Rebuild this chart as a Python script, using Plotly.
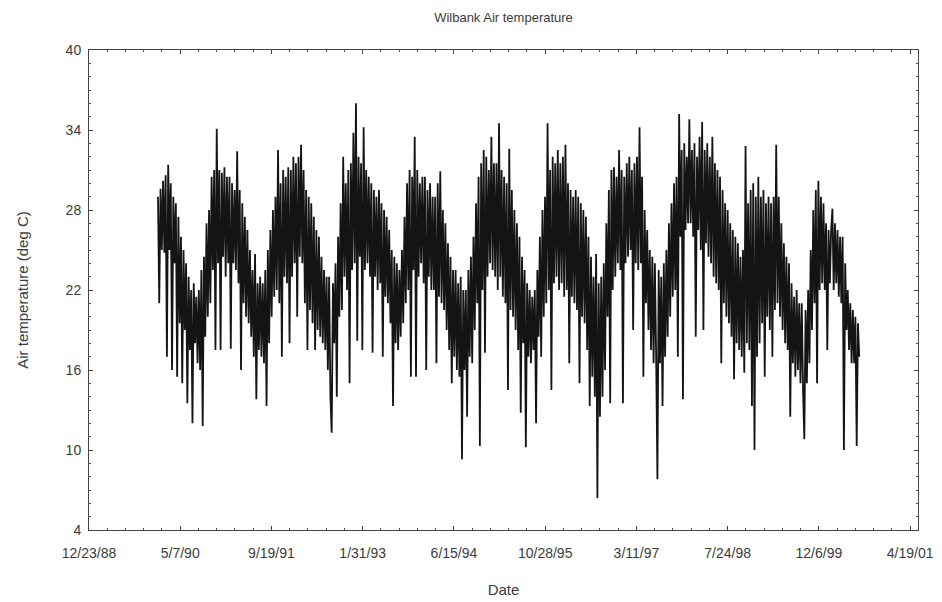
import pandas as pd
import plotly.graph_objects as go

title_text = "Wilbank Air temperature"
x_title = "Date"
y_title = "Air temperature (deg C)"

start_date = "1990-01-05"
step = "7D"

# weekly readings of air temperature (deg C)
temp = [
    29.0, 21.0, 29.6, 25.0, 30.2, 24.8, 30.6, 17.0,
    31.4, 25.0, 30.0, 16.0, 29.0, 24.0, 28.5, 15.5,
    27.5, 19.5, 26.0, 15.0, 25.0, 19.0, 24.0, 13.5,
    23.0, 17.5, 22.0, 12.0, 22.5, 18.0, 21.5, 16.5,
    22.0, 16.0, 23.5, 11.8, 24.5, 18.5, 27.0, 20.0,
    28.0, 21.0, 30.5, 23.5, 31.0, 17.5, 34.1, 24.0,
    31.0, 17.5, 30.8, 24.5, 31.2, 23.0, 30.5, 24.0,
    30.5, 17.6, 30.0, 24.0, 29.5, 23.5, 32.4, 22.5,
    29.5, 16.0, 28.5, 21.0, 27.5, 20.0, 26.5, 19.5,
    25.0, 18.5, 23.5, 17.0, 24.7, 13.8, 22.5, 17.5,
    23.0, 17.0, 22.5, 16.5, 23.5, 13.3, 25.0, 18.0,
    26.5, 20.0, 28.0, 21.5, 29.0, 22.0, 32.5, 21.0,
    30.0, 17.0, 31.0, 23.0, 30.5, 22.5, 31.2, 18.0,
    31.0, 23.0, 32.0, 24.0, 31.5, 20.0, 32.0, 24.5,
    32.9, 24.0, 31.0, 21.0, 29.5, 17.5, 29.0, 20.5,
    28.5, 19.5, 27.5, 17.5, 26.5, 19.0, 26.0, 18.5,
    24.5, 18.0, 23.5, 17.5, 23.0, 16.0, 23.0, 14.0,
    11.3, 22.5, 18.0, 24.0, 14.0, 26.0, 20.0, 28.5,
    20.5, 32.0, 23.0, 30.0, 22.0, 31.0, 15.0, 31.5,
    23.5, 33.8, 24.0, 36.0, 18.2, 32.0, 24.5, 31.5,
    17.5, 34.2, 23.5, 31.0, 24.0, 30.5, 23.0, 30.0,
    17.3, 29.5, 23.0, 29.0, 22.0, 29.5, 22.5, 28.5,
    17.0, 28.0, 21.5, 27.5, 21.0, 26.5, 19.5, 25.0,
    13.3, 24.5, 18.0, 24.0, 17.5, 23.5, 18.5, 25.0,
    19.5, 27.5, 21.0, 30.0, 22.0, 31.0, 15.5, 30.5,
    23.5, 33.5, 15.5, 31.0, 23.0, 30.0, 24.0, 30.5,
    22.5, 30.5, 16.0, 29.5, 23.0, 30.0, 22.0, 29.0,
    22.0, 29.0, 16.5, 30.0, 21.5, 30.9, 21.0, 28.0,
    20.5, 27.0, 19.0, 25.5, 17.5, 24.5, 15.0, 23.5,
    17.0, 23.5, 16.0, 22.5, 15.5, 23.0, 9.3, 22.0,
    16.0, 22.0, 12.5, 23.5, 17.0, 24.5, 16.5, 26.0,
    19.0, 28.5, 21.0, 30.5, 10.3, 31.5, 22.0, 32.5,
    17.3, 32.0, 23.0, 31.0, 24.0, 33.5, 23.5, 31.5,
    23.0, 31.5, 22.0, 34.5, 23.0, 31.0, 21.5, 30.5,
    21.0, 30.0, 14.5, 32.6, 20.5, 29.5, 20.0, 28.0,
    19.0, 27.0, 17.5, 26.0, 12.8, 24.5, 18.0, 23.5,
    10.2, 22.5, 17.0, 22.0, 16.5, 21.5, 17.5, 22.0,
    12.0, 23.5, 18.5, 26.0, 17.0, 28.0, 20.0, 29.0,
    21.0, 34.5, 22.0, 31.0, 14.5, 32.0, 22.5, 31.5,
    23.0, 32.5, 22.0, 31.5, 22.5, 32.0, 21.5, 32.9,
    22.0, 30.0, 16.5, 29.5, 21.5, 29.0, 21.0, 29.5,
    20.5, 29.0, 15.0, 28.5, 20.0, 28.0, 19.5, 27.5,
    17.5, 26.0, 13.3, 24.5, 15.5, 23.0, 14.0, 24.7,
    6.4, 22.5, 12.5, 23.0, 14.0, 24.0, 16.0, 27.0,
    20.0, 29.5, 13.5, 31.0, 22.0, 31.2, 23.0, 30.5,
    24.0, 32.5, 23.5, 31.0, 13.5, 30.5, 24.0, 31.5,
    24.5, 32.0, 25.0, 31.0, 19.0, 31.5, 24.0, 32.0,
    23.5, 34.2, 24.0, 30.5, 15.5, 28.0, 21.0, 26.5,
    19.0, 25.0, 17.5, 24.5, 16.5, 24.0, 17.0, 7.8,
    23.5, 16.5, 23.0, 13.3, 24.0, 17.0, 25.0, 18.5,
    27.0, 20.0, 28.5, 21.5, 30.0, 22.0, 30.5, 17.0,
    35.2, 26.0, 32.5, 13.8, 33.0, 26.5, 32.0, 27.0,
    34.8, 27.0, 32.5, 26.0, 33.0, 18.5, 32.0, 26.5,
    33.5, 25.0, 34.6, 19.0, 32.5, 25.5, 33.0, 24.5,
    32.0, 24.0, 33.5, 23.0, 31.5, 22.5, 31.0, 22.0,
    30.5, 16.5, 29.5, 21.0, 28.5, 20.0, 28.0, 19.5,
    27.0, 18.5, 26.5, 15.3, 26.0, 18.0, 25.5, 17.5,
    24.5, 17.0, 25.0, 15.8, 32.8, 18.0, 28.5, 17.5,
    29.5, 13.3, 30.0, 10.0, 29.0, 17.0, 30.5, 18.0,
    29.0, 19.5, 29.5, 15.5, 28.5, 20.0, 29.0, 19.0,
    28.5, 17.0, 29.0, 20.5, 32.9, 21.0, 29.0, 20.0,
    27.0, 19.0, 25.5, 18.0, 24.5, 17.5, 24.0, 12.5,
    22.5, 16.5, 21.5, 15.5, 22.0, 16.0, 21.0, 15.0,
    21.0, 14.5, 10.8, 20.5, 15.0, 22.0, 16.5, 25.0,
    19.0, 28.0, 21.0, 29.5, 15.0, 30.2, 22.0, 29.0,
    22.5, 28.5, 22.0, 27.0, 17.5, 26.5, 22.5, 26.5,
    28.1, 22.0, 27.0, 22.5, 26.5, 21.5, 26.0, 21.0,
    26.0, 10.0, 24.0, 19.0, 22.0, 17.5, 21.0, 16.5,
    20.5, 16.5, 20.0, 10.3, 19.5, 17.0,
]

x_range = ["1988-12-23", "2001-06-01"]
x_tick0 = "1988-12-23"
y_range = [4, 40]
y_dtick = 6

dates = pd.date_range(start_date, periods=len(temp), freq=step)

DAY_MS = 86400000
FONT = "Liberation Sans, Arial, sans-serif"
TXT = "#3c3c3c"

fig = go.Figure(
    go.Scatter(
        x=dates,
        y=temp,
        mode="lines",
        line=dict(color="#141414", width=1.8, simplify=False),
        showlegend=False,
        hoverinfo="x+y",
    )
)

fig.update_layout(
    width=942,
    height=602,
    margin=dict(l=89, r=24, t=50, b=72, autoexpand=False),
    paper_bgcolor="white",
    plot_bgcolor="white",
    font=dict(family=FONT, size=14, color=TXT),
    title=dict(
        text=title_text,
        x=0.5,
        xref="paper",
        xanchor="center",
        y=1 - 17 / 602,
        yref="container",
        yanchor="middle",
        font=dict(family=FONT, size=13, color=TXT),
    ),
)

fig.update_xaxes(
    type="date",
    range=x_range,
    tick0=x_tick0,
    dtick=500 * DAY_MS,
    tickformat="%-m/%-d/%y",
    ticks="inside",
    ticklen=4,
    tickcolor="#444",
    showline=True,
    linecolor="#444",
    linewidth=1,
    mirror="ticks",
    showgrid=False,
    zeroline=False,
    automargin=False,
    ticklabelstandoff=10,
    tickfont=dict(family=FONT, size=14, color=TXT),
    minor=dict(ticks="inside", ticklen=2, tick0=x_tick0, dtick=100 * DAY_MS, tickcolor="#555", showgrid=False),
    title=dict(text=x_title, standoff=24, font=dict(family=FONT, size=15, color=TXT)),
    fixedrange=True,
)

fig.update_yaxes(
    range=y_range,
    tick0=4,
    dtick=y_dtick,
    ticks="inside",
    ticklen=4,
    tickcolor="#444",
    showline=True,
    linecolor="#444",
    linewidth=1,
    mirror="ticks",
    showgrid=False,
    zeroline=False,
    automargin=False,
    ticklabelstandoff=4,
    tickfont=dict(family=FONT, size=14, color=TXT),
    minor=dict(ticks="inside", ticklen=2, dtick=1, tickcolor="#555", showgrid=False),
    title=dict(text=y_title, standoff=33, font=dict(family=FONT, size=15, color=TXT)),
    fixedrange=True,
)

fig.write_html("out.html")
